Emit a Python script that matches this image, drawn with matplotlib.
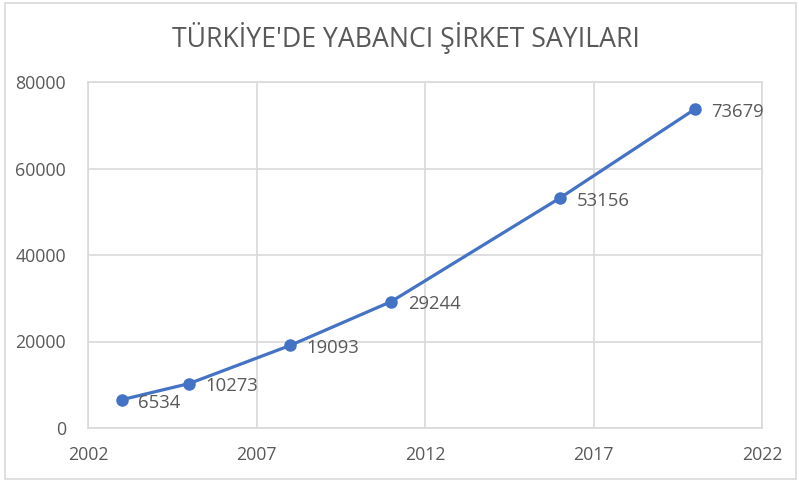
import matplotlib
matplotlib.use("Agg")
import matplotlib.pyplot as plt
from matplotlib.patches import Rectangle

# Veriler
yillar = [2003, 2005, 2008, 2011, 2016, 2020]
sirket_sayilari = [6534, 10273, 19093, 29244, 53156, 73679]
x_ticks = [2002, 2007, 2012, 2017, 2022]
y_ticks = [0, 20000, 40000, 60000, 80000]
baslik = "TÜRKİYE'DE YABANCI ŞİRKET SAYILARI"

plt.rcParams['font.family'] = ['Open Sans', 'DejaVu Sans']
gri_yazi = '#595959'
grid_renk = '#D9D9D9'
mavi = '#4472C4'

fig = plt.figure(figsize=(7.99, 4.82), dpi=100)
ax = fig.add_axes([88 / 799, 1 - 428 / 482, (762 - 88) / 799, (428 - 82) / 482])

ax.plot(yillar, sirket_sayilari, color=mavi, linewidth=2.3, marker='o',
        markersize=8, zorder=3)

for x, y in zip(yillar, sirket_sayilari):
    ax.annotate(str(y), (x, y), xytext=(12, -2), textcoords='offset points',
                ha='left', va='center', fontsize=13.3, color=gri_yazi)

ax.set_xlim(2002, 2022)
ax.set_ylim(0, 80000)
ax.set_xticks(x_ticks)
ax.set_yticks(y_ticks)
ax.grid(True, color=grid_renk, linewidth=1.2)
ax.set_axisbelow(True)
for s in ax.spines.values():
    s.set_color(grid_renk)
    s.set_linewidth(1.2)
ax.tick_params(axis='both', length=0, labelsize=12.8, labelcolor=gri_yazi)
ax.tick_params(axis='y', pad=16)
ax.tick_params(axis='x', pad=13)

fig.text(406 / 799, 1 - 38 / 482, baslik, ha='center', va='center',
         fontsize=19.2, color=gri_yazi)

# Grafik çerçevesi
fig.patches.append(Rectangle((5 / 799, 3 / 482), 791 / 799, 476 / 482,
                             transform=fig.transFigure, fill=False,
                             edgecolor=grid_renk, linewidth=1.2))

fig.savefig('out.png', dpi=100)
